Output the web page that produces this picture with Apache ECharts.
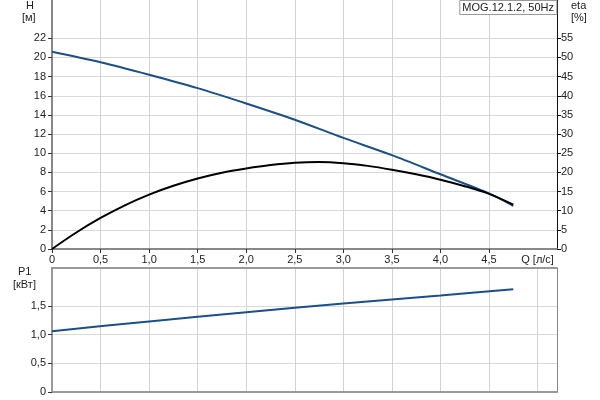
<!DOCTYPE html>
<html><head><meta charset="utf-8">
<script src="https://cdn.jsdelivr.net/npm/echarts@6/dist/echarts.min.js"></script>
<style>html,body{margin:0;padding:0;background:#fff}#c{width:600px;height:400px}</style>
</head><body><div id="c"></div>
<script>
// Data
var qH = [0, 0.5, 1.0, 1.5, 2.0, 2.5, 3.0, 3.5, 4.0, 4.5, 4.75];
var headH = [20.6, 19.5, 18.2, 16.8, 15.2, 13.5, 11.6, 9.8, 7.8, 5.8, 4.5];
var qEta = [0, 0.25, 0.5, 0.75, 1.0, 1.25, 1.5, 1.75, 2.0, 2.25, 2.5, 2.75, 3.0, 3.25, 3.5, 3.75, 4.0, 4.25, 4.5, 4.75];
var etaVals = [0, 4.3, 8.1, 11.4, 14.2, 16.5, 18.4, 19.9, 21.0, 21.9, 22.5, 22.7, 22.4, 21.7, 20.7, 19.5, 18.1, 16.4, 14.4, 11.6];
var qP = [0, 1, 2, 3, 4, 4.75];
var p1Vals = [1.06, 1.23, 1.39, 1.54, 1.68, 1.79];
var xTicks = [0, 0.5, 1.0, 1.5, 2.0, 2.5, 3.0, 3.5, 4.0, 4.5, 5.0];
var hTicks = [0, 2, 4, 6, 8, 10, 12, 14, 16, 18, 20, 22];
var etaTicks = [0, 5, 10, 15, 20, 25, 30, 35, 40, 45, 50, 55];
var pTicks = [0, 0.5, 1.0, 1.5];
var legendText = 'MOG.12.1.2, 50Hz';

function zip(a, b) { return a.map(function (v, i) { return [v, b[i]]; }); }
function comma(v) { return v === 0 ? '0' : v.toFixed(1).replace('.', ','); }

var F = 'Liberation Sans, Arial, sans-serif';
var lbl = { fontFamily: F, fontSize: 11, color: '#222' };
var gridLine = { show: true, lineStyle: { color: '#d9d9d9', width: 1 } };
var vGridLine = { show: true, lineStyle: { color: '#cfd3d3', width: 1 } };
var noLine = { show: false };

var chart = echarts.init(document.getElementById('c'), null, { renderer: 'canvas' });
chart.setOption({
  animation: false,
  title: {
    text: legendText, right: 43, top: 0, padding: [2, 3, 2, 3],
    borderColor: '#999', borderWidth: 1, backgroundColor: '#fff',
    textStyle: { fontFamily: F, fontSize: 11, fontWeight: 'normal', color: '#222' }
  },
  grid: [
    { left: 52, right: 43, top: 0, height: 249 },
    { left: 52, right: 43, top: 268, height: 124 }
  ],
  xAxis: [
    {
      type: 'value', gridIndex: 0, min: 0, max: 5.2, interval: 0.5,
      axisLine: { show: true, onZero: false, lineStyle: { color: '#888', width: 2 } },
      axisTick: { show: true, length: 4, lineStyle: { color: '#333' }, customValues: xTicks.slice(0, 10) },
      axisLabel: Object.assign({}, lbl, { margin: 5, customValues: xTicks,
        formatter: function (v) { return Math.abs(v - 5) < 1e-9 ? 'Q [л/с]' : comma(v); } }),
      splitLine: vGridLine
    },
    {
      type: 'value', gridIndex: 1, min: 0, max: 5.2, interval: 0.5, position: 'bottom',
      axisLine: { show: true, onZero: false, lineStyle: { color: '#999', width: 2 } },
      axisTick: { show: false }, axisLabel: { show: false },
      splitLine: vGridLine
    },
    {
      type: 'value', gridIndex: 1, min: 0, max: 5.2, position: 'top',
      axisLine: { show: true, onZero: false, lineStyle: { color: '#999', width: 2 } },
      axisTick: { show: false }, axisLabel: { show: false }, splitLine: noLine
    }
  ],
  yAxis: [
    {
      type: 'value', gridIndex: 0, min: 0, max: 26, interval: 2,
      axisLine: { show: true, onZero: false, lineStyle: { color: '#888', width: 2 } },
      axisTick: { show: true, length: 4, lineStyle: { color: '#333' }, customValues: hTicks },
      axisLabel: Object.assign({}, lbl, { margin: 6, customValues: hTicks }),
      splitLine: gridLine
    },
    {
      type: 'value', gridIndex: 0, position: 'right', min: 0, max: 65, interval: 5,
      axisLine: { show: true, onZero: false, lineStyle: { color: '#111', width: 1 } },
      axisTick: { show: true, length: 4, lineStyle: { color: '#111' }, customValues: etaTicks },
      axisLabel: Object.assign({}, lbl, { margin: 4, customValues: etaTicks }),
      splitLine: noLine
    },
    {
      type: 'value', gridIndex: 1, min: 0, max: 2.16, interval: 0.5,
      axisLine: { show: true, onZero: false, lineStyle: { color: '#999', width: 2 } },
      axisTick: { show: true, length: 4, lineStyle: { color: '#333' }, customValues: pTicks },
      axisLabel: Object.assign({}, lbl, { margin: 6, customValues: pTicks, formatter: comma }),
      splitLine: gridLine
    },
    {
      type: 'value', gridIndex: 1, position: 'right', min: 0, max: 2.16,
      axisLine: { show: true, onZero: false, lineStyle: { color: '#888', width: 1 } },
      axisTick: { show: false }, axisLabel: { show: false }, splitLine: noLine
    }
  ],
  graphic: [
    { type: 'text', left: 26, top: 0, style: { text: 'H', font: '11px ' + F, fill: '#222' } },
    { type: 'text', left: 22, top: 12, style: { text: '[м]', font: '11px ' + F, fill: '#222' } },
    { type: 'text', left: 571, top: 0, style: { text: 'eta', font: '11px ' + F, fill: '#222' } },
    { type: 'text', left: 571, top: 12, style: { text: '[%]', font: '11px ' + F, fill: '#222' } },
    { type: 'text', left: 18, top: 266, style: { text: 'P1', font: '11px ' + F, fill: '#222' } },
    { type: 'text', left: 13, top: 279, style: { text: '[кВт]', font: '11px ' + F, fill: '#222' } }
  ],
  series: [
    { type: 'line', xAxisIndex: 0, yAxisIndex: 0, data: zip(qH, headH), smooth: 0.3,
      symbol: 'none', lineStyle: { color: '#1b4f8a', width: 2 } },
    { type: 'line', xAxisIndex: 0, yAxisIndex: 1, data: zip(qEta, etaVals), smooth: 0.3,
      symbol: 'none', lineStyle: { color: '#000', width: 2 } },
    { type: 'line', xAxisIndex: 1, yAxisIndex: 2, data: zip(qP, p1Vals), smooth: 0.3,
      symbol: 'none', lineStyle: { color: '#1b4f8a', width: 2 } }
  ]
});
</script></body></html>
